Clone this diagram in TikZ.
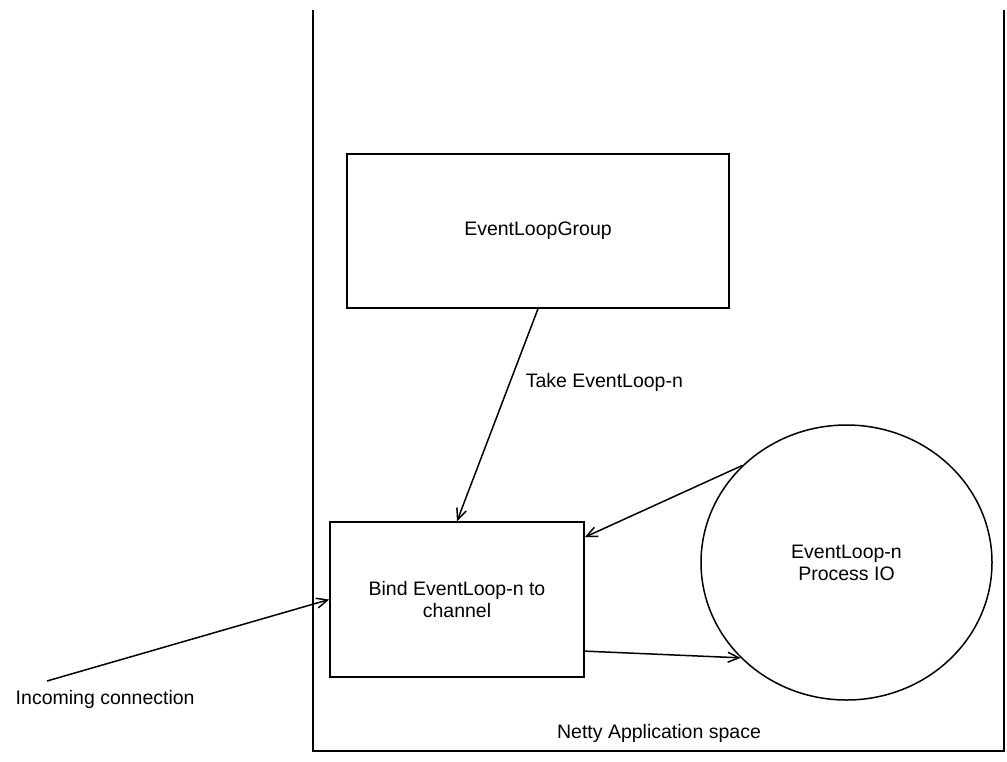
\documentclass[tikz,border=0pt]{standalone}
\usepackage{fontspec}
\setmainfont{Liberation Sans}
\usetikzlibrary{shapes.geometric,arrows.meta}

\begin{document}
\begin{tikzpicture}[x=1pt, y=-1pt, line width=1.5pt,
    font=\fontsize{19.5}{22}\selectfont,
    block/.style ={rectangle, draw, align=center, inner sep = 0pt},
    worker/.style ={ellipse, draw, align=center, inner sep = 0pt, minimum width=291pt, minimum height=275pt},
    plain/.style ={inner sep = 0pt, align=center},
    arr/.style ={-{Straight Barb[length=11pt, width=10pt]}}]
   \useasboundingbox (0,0) rectangle (1007,761);
   \node[block, minimum width=382pt, minimum height=154pt] (G) at (538,231) {EventLoopGroup};
   \node[block, minimum width=254pt, minimum height=155pt] (B) at (457,599.5) {Bind EventLoop-n to\\channel};
   \node[worker] (L) at (846.5,562.5) {EventLoop-n\\Process IO};
   \node[plain, anchor=west] (T) at (525,382) {Take EventLoop-n};
   \node[plain, anchor=west] (I) at (15,699) {Incoming connection};
   \node[plain] (N) at (659,733) {Netty Application space};
   \coordinate (in) at (47,681);

   \draw (313,10) -- (313,751) -- (1004,751) -- (1004,10);

   \draw[arr] (G.south) to  (B.north);
   \draw[arr] (L.137.3) to  (B.26);
   \draw[arr] (B.-22) to  (L.222.4);
   \draw[arr] (in) to  (B.west);
 \end{tikzpicture}
\end{document}
